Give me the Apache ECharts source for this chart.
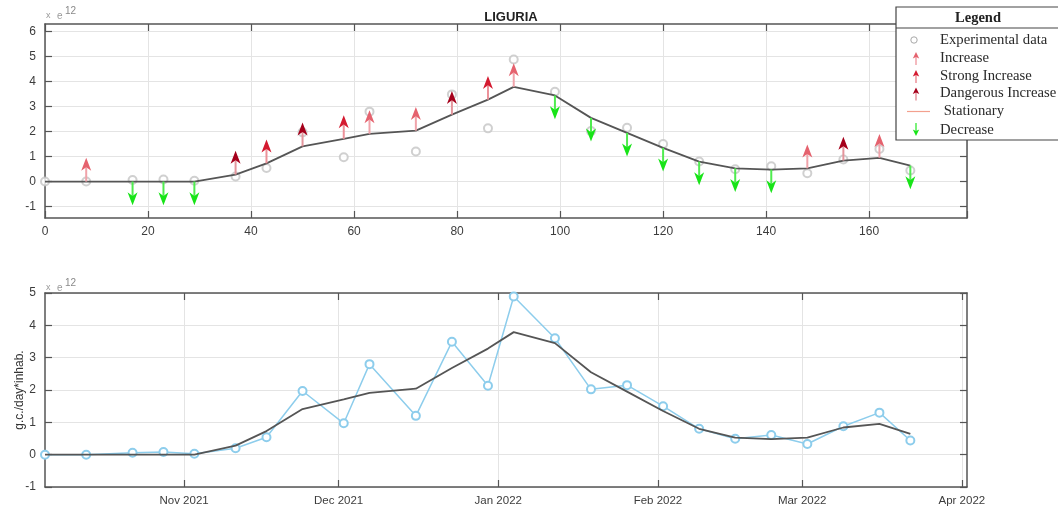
<!DOCTYPE html>
<html><head><meta charset="utf-8">
<script src="https://cdn.jsdelivr.net/npm/echarts@6/dist/echarts.min.js"></script>
<style>html,body{margin:0;padding:0;background:#fff}#c{width:1058px;height:510px}</style>
</head><body><div id="c"></div>
<script>
// ---------- data ----------
const chartTitle = 'LIGURIA';
const days = [0, 8, 17, 23, 29, 37, 43, 50, 58, 63, 72, 79, 86, 91, 99, 106, 113, 120, 127, 134, 141, 148, 155, 162, 168];
const experimental = [0, 0, 0.06, 0.08, 0.03, 0.2, 0.54, 1.97, 0.97, 2.8, 1.2, 3.49, 2.13, 4.89, 3.6, 2.02, 2.15, 1.5, 0.8, 0.49, 0.61, 0.33, 0.88, 1.3, 0.44];
const trend = [0, 0, 0, 0, 0, 0.28, 0.73, 1.41, 1.71, 1.91, 2.04, 2.68, 3.28, 3.79, 3.45, 2.55, 1.95, 1.35, 0.8, 0.53, 0.48, 0.53, 0.84, 0.95, 0.64];
const arrowClass = ['', 'inc', 'dec', 'dec', 'dec', 'dan', 'str', 'dan', 'str', 'inc', 'inc', 'dan', 'str', 'inc',
  'dec', 'dec', 'dec', 'dec', 'dec', 'dec', 'dec', 'inc', 'dan', 'inc', 'dec'];
const topXTicks = [0, 20, 40, 60, 80, 100, 120, 140, 160];
const topYTicks = [-1, 0, 1, 2, 3, 4, 5, 6];
const monthDays = [27, 57, 88, 119, 147, 178];
const monthLabels = ['Nov 2021', 'Dec 2021', 'Jan 2022', 'Feb 2022', 'Mar 2022', 'Apr 2022'];
const legendTitle = 'Legend';
const legendItems = ['Experimental data', 'Increase', 'Strong Increase', 'Dangerous Increase', ' Stationary', 'Decrease'];
const yAxisName = 'g.c./day*inhab.';
const scaleNote = ['x', 'e', '12'];

// ---------- styles ----------
const CLASSES = ['inc', 'str', 'dan', 'dec'];
const ARROW = [
  { dir: 1, head: '#e5626e', shaft: '#f0a3aa' },
  { dir: 1, head: '#d41a30', shaft: '#ec9199' },
  { dir: 1, head: '#a5001b', shaft: '#e4959c' },
  { dir: -1, head: '#18e418', shaft: '#4fec4f' }
];
const ARROW_LEN = 0.95;
const AX = '#555';
const LBL = '#3c3c3c';
const SANS = 'Liberation Sans, Arial, sans-serif';
const SERIF = 'Liberation Serif, Times New Roman, serif';

const chart = echarts.init(document.getElementById('c'), null, { renderer: 'canvas' });

const expPairs = days.map((d, i) => [d, experimental[i]]);
const trendPairs = days.map((d, i) => [d, trend[i]]);
const arrowData = [];
days.forEach((d, i) => { if (arrowClass[i]) arrowData.push([d, trend[i], CLASSES.indexOf(arrowClass[i])]); });

function arrowItem(params, api) {
  const d = api.value(0), b = api.value(1), k = api.value(2);
  const s = ARROW[k];
  const p0 = api.coord([d, b]);
  const p1 = api.coord([d, b + s.dir * ARROW_LEN]);
  const sg = p1[1] < p0[1] ? 1 : -1;
  const hl = 13, hw = 5;
  const x = p0[0];
  const baseY = p1[1] + sg * hl, notchY = p1[1] + sg * hl * 0.72;
  return {
    type: 'group', children: [
      { type: 'line', shape: { x1: x, y1: p0[1], x2: x, y2: notchY }, style: { stroke: s.shaft, lineWidth: 2 } },
      { type: 'polygon', shape: { points: [[x, p1[1]], [x - hw, baseY], [x, notchY], [x + hw, baseY]] }, style: { fill: s.head } }
    ]
  };
}

const baseAxisLine = { show: true, onZero: false, lineStyle: { color: AX, width: 1.5 } };
const tickIn = { show: true, inside: true, length: 7, lineStyle: { color: AX, width: 1.2 } };
const gridLine = { show: true, lineStyle: { color: '#e4e4e4', width: 1 } };
const labelStyle = { color: LBL, fontSize: 12, fontFamily: SANS };

// legend graphic
const LX = 896, LY = 7, LW = 166, LH = 133;
const rowY = [40, 58, 76, 93.5, 111.5, 130];
const legendGraphics = [
  { type: 'rect', shape: { x: LX, y: LY, width: LW, height: LH }, style: { fill: '#fff', stroke: '#444', lineWidth: 1.2 }, z: 100 },
  { type: 'line', shape: { x1: LX, y1: 28, x2: LX + LW, y2: 28 }, style: { stroke: '#444', lineWidth: 1.2 }, z: 101 },
  { type: 'text', x: 978, y: 18, style: { text: legendTitle, font: 'bold 14.5px ' + SERIF, fill: '#222', align: 'center', verticalAlign: 'middle' }, z: 101 }
];
legendItems.forEach((t, i) => {
  legendGraphics.push({ type: 'text', x: 940, y: rowY[i], style: { text: t, font: '14.7px ' + SERIF, fill: '#2a2a2a', align: 'left', verticalAlign: 'middle' }, z: 101 });
});
// glyphs
legendGraphics.push({ type: 'circle', shape: { cx: 914, cy: rowY[0], r: 3.2 }, style: { fill: 'none', stroke: '#a8a8a8', lineWidth: 1 }, z: 101 });
[0, 1, 2].forEach(k => {
  const cy = rowY[k + 1], x = 916, s = ARROW[k];
  legendGraphics.push({ type: 'line', shape: { x1: x, y1: cy + 7, x2: x, y2: cy - 2 }, style: { stroke: s.shaft, lineWidth: 1.5 }, z: 101 });
  legendGraphics.push({ type: 'polygon', shape: { points: [[x, cy - 6], [x - 3.2, cy + 0.5], [x, cy - 1], [x + 3.2, cy + 0.5]] }, style: { fill: s.head }, z: 102 });
});
legendGraphics.push({ type: 'line', shape: { x1: 907, y1: rowY[4], x2: 930, y2: rowY[4] }, style: { stroke: '#f3a08e', lineWidth: 1.2 }, z: 101 });
{
  const cy = rowY[5], x = 916, s = ARROW[3];
  legendGraphics.push({ type: 'line', shape: { x1: x, y1: cy - 7, x2: x, y2: cy + 2 }, style: { stroke: s.shaft, lineWidth: 1.5 }, z: 101 });
  legendGraphics.push({ type: 'polygon', shape: { points: [[x, cy + 6], [x - 3.2, cy - 0.5], [x, cy + 1], [x + 3.2, cy - 0.5]] }, style: { fill: s.head }, z: 102 });
}
// scale notes
function scaleNoteGraphics(y) {
  return [
    { type: 'text', x: 46, y: y, style: { text: scaleNote[0], font: '9px ' + SANS, fill: '#9a9a9a', verticalAlign: 'middle' } },
    { type: 'text', x: 57, y: y, style: { text: scaleNote[1], font: '10px ' + SANS, fill: '#9a9a9a', verticalAlign: 'middle' } },
    { type: 'text', x: 65, y: y - 5, style: { text: scaleNote[2], font: '10px ' + SANS, fill: '#8a8a8a', verticalAlign: 'middle' } }
  ];
}

const option = {
  animation: false,
  backgroundColor: '#fff',
  title: { text: chartTitle, left: 506, top: 6, textAlign: 'center', textStyle: { fontSize: 13, fontWeight: 'bold', fontFamily: SANS, color: '#222' } },
  grid: [
    { left: 45, top: 24, width: 922, height: 194, containLabel: false, outerBoundsMode: 'none' },
    { left: 45, top: 293, width: 922, height: 194, containLabel: false, outerBoundsMode: 'none' }
  ],
  xAxis: [
    { gridIndex: 0, type: 'value', min: 0, max: 179, interval: 20, position: 'bottom', axisLine: baseAxisLine, axisTick: tickIn,
      axisLabel: Object.assign({ margin: 8, formatter: v => topXTicks.indexOf(v) >= 0 ? String(v) : '' }, labelStyle), splitLine: gridLine },
    { gridIndex: 0, type: 'value', min: 0, max: 179, interval: 20, position: 'top', axisLine: baseAxisLine, axisTick: tickIn,
      axisLabel: { show: false }, splitLine: { show: false } },
    { gridIndex: 1, type: 'value', min: 0, max: 179, position: 'bottom', axisLine: baseAxisLine,
      axisTick: Object.assign({ customValues: monthDays }, tickIn),
      axisLabel: Object.assign({ margin: 8, customValues: monthDays, formatter: v => { const i = monthDays.indexOf(v); return i >= 0 ? monthLabels[i] : ''; } }, labelStyle, { fontSize: 11.5 }),
      splitLine: gridLine },
    { gridIndex: 1, type: 'value', min: 0, max: 179, position: 'top', axisLine: baseAxisLine,
      axisTick: Object.assign({ customValues: monthDays }, tickIn), axisLabel: { show: false }, splitLine: { show: false } }
  ],
  yAxis: [
    { gridIndex: 0, type: 'value', min: -1.46, max: 6.31, splitNumber: 7, position: 'left', axisLine: baseAxisLine,
      axisTick: Object.assign({ customValues: topYTicks }, tickIn),
      axisLabel: Object.assign({ margin: 9, customValues: topYTicks, formatter: v => String(v) }, labelStyle), splitLine: gridLine },
    { gridIndex: 0, type: 'value', min: -1.46, max: 6.31, position: 'right', axisLine: baseAxisLine,
      axisTick: Object.assign({ customValues: topYTicks }, tickIn), axisLabel: { show: false }, splitLine: { show: false } },
    { gridIndex: 1, type: 'value', min: -1, max: 5, interval: 1, position: 'left', axisLine: baseAxisLine, axisTick: tickIn,
      axisLabel: Object.assign({ margin: 9 }, labelStyle), splitLine: gridLine,
      name: yAxisName, nameLocation: 'middle', nameGap: 19, nameMoveOverlap: false,
      nameTextStyle: { fontSize: 12, fontFamily: SANS, color: '#333' } },
    { gridIndex: 1, type: 'value', min: -1, max: 5, interval: 1, position: 'right', axisLine: baseAxisLine, axisTick: tickIn,
      axisLabel: { show: false }, splitLine: { show: false } }
  ],
  series: [
    { type: 'scatter', xAxisIndex: 0, yAxisIndex: 0, data: expPairs, symbol: 'emptyCircle', symbolSize: 8,
      itemStyle: { color: '#c4c4c4', borderWidth: 1 }, z: 2 },
    { type: 'line', xAxisIndex: 0, yAxisIndex: 0, data: trendPairs, showSymbol: false, symbol: 'none',
      lineStyle: { color: '#555', width: 1.8 }, z: 3 },
    { type: 'custom', xAxisIndex: 0, yAxisIndex: 0, data: arrowData, renderItem: arrowItem, z: 4,
      encode: { x: 0, y: 1 } },
    { type: 'line', xAxisIndex: 2, yAxisIndex: 2, data: expPairs, symbol: 'emptyCircle', symbolSize: 8, showSymbol: true,
      lineStyle: { color: '#8dcdec', width: 1.5 }, itemStyle: { color: '#8dcdec', borderWidth: 1.2 }, z: 2 },
    { type: 'line', xAxisIndex: 2, yAxisIndex: 2, data: trendPairs, symbol: 'none',
      lineStyle: { color: '#555', width: 1.8 }, z: 3 }
  ],
  graphic: legendGraphics.concat(scaleNoteGraphics(16), scaleNoteGraphics(288))
};
chart.setOption(option);
</script>
</body></html>
